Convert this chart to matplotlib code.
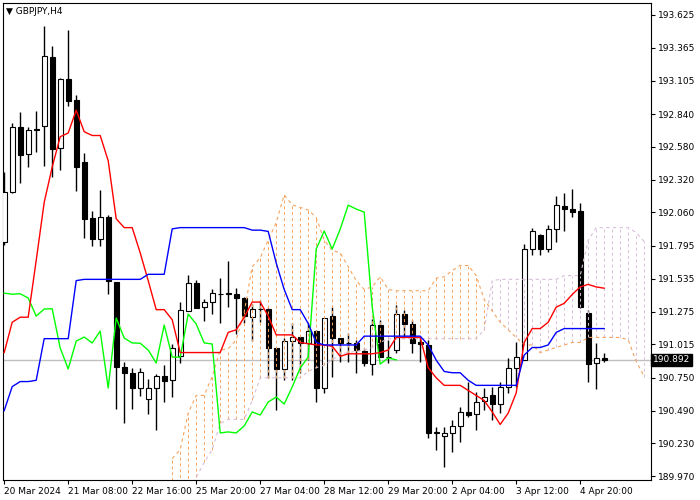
import matplotlib
matplotlib.use("Agg")
import matplotlib.pyplot as plt
import numpy as np

# ---- data ----
opens = [191.825,192.221,192.736,192.522,192.720,192.744,193.291,192.570,193.116,192.950,
         192.459,192.015,191.849,192.023,191.509,190.835,190.788,190.669,190.582,190.669,
         190.764,190.732,190.922,191.279,191.501,191.311,191.350,191.414,191.414,191.414,
         191.382,191.231,191.295,191.295,190.986,190.820,191.041,191.073,191.026,191.120,
         190.669,191.239,191.065,191.026,191.026,190.962,190.859,191.168,190.915,190.970,
         191.255,191.176,191.033,191.010,190.313,190.289,190.313,190.368,190.479,190.463,
         190.566,190.614,190.542,190.677,190.827,190.891,191.770,191.881,191.770,191.928,
         192.110,192.087,192.071,191.263,190.867,190.905]
highs = [192.380,192.768,192.855,192.736,192.863,193.536,193.378,193.124,193.504,192.990,
         192.530,192.071,192.237,192.039,191.509,190.875,190.827,190.827,190.740,190.780,
         190.851,191.018,191.350,191.564,191.524,191.374,191.453,191.540,191.675,191.461,
         191.390,191.334,191.366,191.303,190.986,191.065,191.184,191.073,191.184,191.128,
         191.224,191.311,191.065,191.105,191.049,190.986,191.216,191.208,191.049,191.326,
         191.287,191.208,191.073,191.049,190.360,190.360,190.416,190.519,190.717,190.637,
         190.669,190.677,190.717,190.907,191.033,191.810,191.936,191.889,191.960,192.190,
         192.213,192.245,192.134,191.287,191.026,190.946]
lows = [191.800,192.213,192.293,192.419,192.538,192.427,192.340,192.396,192.902,192.229,
        191.857,191.794,191.794,191.414,190.503,190.392,190.503,190.606,190.463,190.336,
        190.558,190.598,190.867,191.279,191.303,191.200,191.255,191.184,191.311,191.097,
        191.184,191.041,191.192,190.748,190.495,190.732,190.732,190.788,190.891,190.558,
        190.629,190.756,190.875,190.875,190.788,190.843,190.772,190.915,190.867,190.946,
        191.073,190.946,190.875,190.273,190.178,190.043,190.162,190.241,190.439,190.336,
        190.495,190.416,190.471,190.629,190.677,190.891,191.722,191.722,191.746,191.825,
        191.913,192.023,191.300,190.717,190.661,190.875]
closes = [192.221,192.736,192.514,192.712,192.716,193.299,192.562,193.116,192.942,192.419,
          192.008,191.849,192.023,191.517,190.835,190.788,190.669,190.796,190.669,190.764,
          190.725,190.986,191.287,191.501,191.303,191.350,191.421,191.412,191.416,191.382,
          191.239,191.295,191.297,190.986,190.820,191.041,191.073,191.026,191.120,190.669,
          191.224,191.065,191.026,191.024,190.970,190.867,191.168,190.915,190.913,191.255,
          191.176,191.026,191.018,190.313,190.321,190.313,190.368,190.479,190.455,190.558,
          190.598,190.542,190.677,190.827,190.915,191.770,191.913,191.770,191.928,192.118,
          192.087,192.063,191.311,190.859,190.907,190.892]

tenkan = [190.95,191.19,191.23,191.23,191.68,192.14,192.42,192.66,192.69,192.87,
          192.70,192.67,192.67,192.47,192.01,191.94,191.94,191.74,191.52,191.29,
          191.29,191.21,190.95,190.95,190.95,190.95,190.95,190.95,191.11,191.13,
          191.23,191.35,191.35,191.24,191.09,191.09,191.09,191.03,191.02,191.01,
          191.01,191.00,190.92,190.94,190.94,190.94,190.94,190.95,190.97,191.07,
          191.07,191.07,191.07,190.83,190.75,190.69,190.69,190.69,190.65,190.61,
          190.57,190.48,190.38,190.47,190.63,191.03,191.14,191.14,191.19,191.31,
          191.34,191.41,191.47,191.49,191.47,191.46]
kijun = [190.49,190.68,190.72,190.72,190.73,191.06,191.06,191.06,191.06,191.52,
         191.53,191.53,191.53,191.53,191.53,191.53,191.53,191.53,191.57,191.57,
         191.57,191.93,191.94,191.94,191.94,191.94,191.94,191.94,191.94,191.94,
         191.94,191.92,191.92,191.91,191.66,191.45,191.29,191.29,191.18,191.03,
         191.01,191.01,191.01,191.01,191.01,191.08,191.08,191.08,191.08,191.08,
         191.08,191.08,191.08,191.01,190.89,190.80,190.79,190.79,190.73,190.69,
         190.69,190.69,190.69,190.69,190.69,190.93,190.99,190.99,191.01,191.11,
         191.14,191.14,191.14,191.14,191.14,191.14]
cloud_start = 21
senkou_a = [190.11,190.18,190.47,190.61,190.61,190.76,190.97,190.98,191.05,191.27,
            191.63,191.70,191.84,191.98,192.20,192.12,192.10,192.08,192.02,191.84,
            191.76,191.74,191.63,191.52,191.45,191.47,191.55,191.45,191.44,191.44,
            191.44,191.44,191.44,191.54,191.55,191.60,191.64,191.64,191.56,191.37,
            191.28,191.19,191.13,191.07,191.01,191.01,190.95,190.97,190.99,191.01,
            191.03,191.03,191.07,191.07,191.07,191.07,191.07,191.05,190.88,190.76]
senkou_b = [189.80,189.82,189.86,189.96,190.08,190.18,190.39,190.42,190.42,190.42,
            190.57,190.75,190.75,190.75,190.75,190.75,190.75,190.80,190.83,190.85,
            190.89,190.94,190.95,190.96,190.97,190.99,191.03,191.06,191.06,191.06,
            191.06,191.06,191.06,191.06,191.06,191.06,191.06,191.06,191.06,191.13,
            191.52,191.53,191.53,191.53,191.53,191.53,191.53,191.53,191.53,191.56,
            191.56,191.56,191.84,191.94,191.94,191.94,191.94,191.94,191.90,191.83]
ytick_vals = [193.625,193.365,193.105,192.840,192.580,192.320,192.060,191.795,
              191.535,191.275,191.015,190.750,190.490,190.230,189.970]
xtick_labels = ["20 Mar 2024","21 Mar 08:00","22 Mar 16:00","25 Mar 20:00","27 Mar 04:00",
                "28 Mar 12:00","29 Mar 20:00","2 Apr 04:00","3 Apr 12:00","4 Apr 20:00"]
current_price = 190.892

# ---- plot ----
fig = plt.figure(figsize=(7, 5), dpi=100)
ax = fig.add_axes([3/700, 20/500, 648/700, 477/500])
n = len(opens)
x = np.arange(n)

ax.axhline(current_price, color="#c0c0c0", lw=1, zorder=1)

for i in x:
    o, h, l, c = opens[i], highs[i], lows[i], closes[i]
    ax.vlines(i, l, h, color="black", lw=1, zorder=2)
    bull = c >= o
    ax.bar(i, abs(c - o) if abs(c - o) > 0.004 else 0.004, bottom=min(o, c), width=0.62,
           color="white" if bull else "black", edgecolor="black", lw=0.8, zorder=3)

cx = np.arange(cloud_start, cloud_start + len(senkou_a))
A = np.array(senkou_a); B = np.array(senkou_b)
for xi, a, b in zip(cx, A, B):
    col = "#f4a460" if a >= b else "#d8bfd8"
    ax.vlines(xi, min(a, b), max(a, b), color=col, lw=0.7, linestyles=(0, (3, 3)), zorder=4)
ax.plot(cx, A, color="#f4a460", lw=0.8, ls=(0, (3, 3)), zorder=4)
ax.plot(cx, B, color="#d8bfd8", lw=0.8, ls=(0, (3, 3)), zorder=4)

chikou = closes[26:]
ax.plot(x[:len(chikou)], chikou, color="#00ff00", lw=1, zorder=5)
ax.plot(x, tenkan, color="#ff0000", lw=1, zorder=5)
ax.plot(x, kijun, color="#0000ff", lw=1, zorder=5)

ax.set_xlim(-0.15, 80.85)
ax.set_ylim(189.94, 193.72)
ax.yaxis.tick_right()
ax.set_yticks(ytick_vals)
ax.set_yticklabels([f"{v:.3f}" for v in ytick_vals])
ax.set_xticks(np.arange(0, 8 * len(xtick_labels), 8))
ax.set_xticklabels(xtick_labels, ha="left")
ax.tick_params(axis="both", labelsize=6.5, length=3, width=0.8, direction="out", pad=2)
for s in ax.spines.values():
    s.set_linewidth(0.8)

ax.text(1.003, current_price, f"{current_price:.3f}", transform=ax.get_yaxis_transform(),
        fontsize=6.5, color="white", va="center", ha="left", zorder=10,
        bbox=dict(boxstyle="square,pad=0.2", fc="black", ec="black"))
ax.text(0.004, 0.992, "▼ GBPJPY,H4", transform=ax.transAxes, fontsize=6.5, va="top", ha="left")

fig.savefig("out.png", dpi=100)
